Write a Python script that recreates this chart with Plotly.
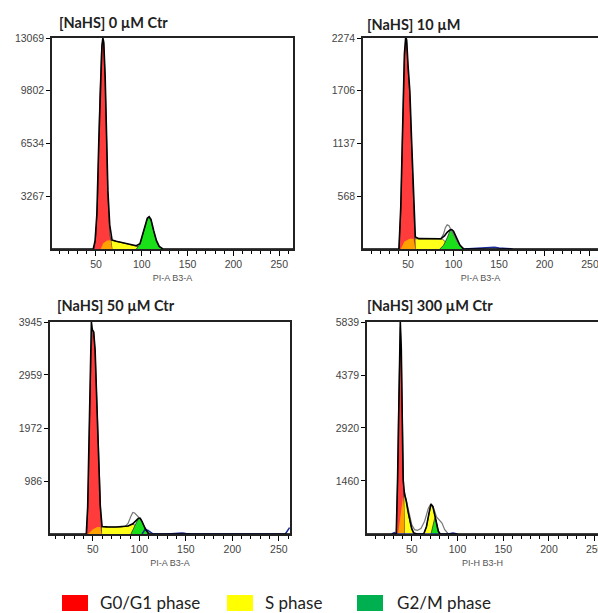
import plotly.graph_objects as go

# ---------------- DATA ----------------
titles = ["[NaHS] 0 µM Ctr", "[NaHS] 10 µM", "[NaHS] 50 µM Ctr", "[NaHS] 300 µM Ctr"]
xlabels = ["PI-A B3-A", "PI-A B3-A", "PI-A B3-A", "PI-H B3-H"]
y_ticks = [[3267, 6534, 9802, 13069], [568, 1137, 1706, 2274], [986, 1972, 2959, 3945], [1460, 2920, 4379, 5839]]
x_ticks = [50, 100, 150, 200, 250]
x_ranges = [[2, 265], [0.5, 258.8], [4, 262], [1, 253.6]]

# Panel 1: 0 µM
p1_red_x = [48, 50, 52, 54, 56, 57.5, 58.5, 60, 61.5, 63, 65, 67.5]
p1_red_y = [0, 900, 3500, 9200, 12300, 13000, 12700, 10600, 7000, 3300, 1000, 0]
p1_s_x = [55, 58, 62, 66, 72, 80, 88, 95, 100, 104]
p1_s_y = [0, 350, 520, 540, 480, 380, 270, 180, 90, 0]
p1_or_x = [55, 58, 62, 66, 67.5]
p1_or_y = [0, 350, 520, 540, 0]
p1_g2_x = [94, 98, 101, 104, 106, 108, 110, 113, 116, 119, 123]
p1_g2_y = [0, 300, 900, 1550, 1870, 1970, 1800, 1100, 500, 150, 0]
p1_tot_x = [2, 40, 47, 49, 51, 53, 55, 56.5, 57.5, 58.5, 60, 61.5, 63, 65, 67.5, 72, 80, 88, 94, 98, 101, 104, 106, 108, 110, 113, 116, 119, 123, 130, 265]
p1_tot_y = [0, 0, 0, 500, 2200, 6500, 11000, 12600, 13069, 12800, 10700, 7200, 3600, 1500, 560, 480, 380, 270, 200, 330, 950, 1600, 1900, 2000, 1830, 1130, 520, 160, 0, 0, 0]
p1_out_x = []
p1_out_y = []
p1_blue_x = []
p1_blue_y = []

# Panel 2: 10 µM
p2_red_x = [40, 42, 44, 46, 47.5, 48.5, 50, 52, 54, 56, 58]
p2_red_y = [0, 400, 1300, 2050, 2274, 2230, 1950, 1650, 1100, 500, 0]
p2_s_x = [42, 46, 52, 60, 70, 80, 88, 93, 97]
p2_s_y = [0, 80, 110, 112, 110, 108, 105, 60, 0]
p2_or_x = [42, 46, 52, 56, 58]
p2_or_y = [0, 80, 110, 110, 0]
p2_g2_x = [85, 89, 93, 96, 98, 100, 103, 107, 111]
p2_g2_y = [0, 40, 120, 195, 208, 190, 120, 40, 0]
p2_tot_x = [0.5, 38, 40, 42, 44, 46, 47.5, 48.5, 50, 52, 54, 56, 58, 62, 70, 80, 86, 90, 93, 96, 98, 100, 103, 107, 111, 258.8]
p2_tot_y = [0, 0, 0, 450, 1350, 2100, 2290, 2250, 1980, 1700, 1150, 580, 130, 112, 110, 108, 110, 140, 180, 205, 210, 192, 122, 42, 0, 0]
p2_out_x = [86, 89, 91, 93, 95, 97, 100, 104, 108, 112]
p2_out_y = [110, 160, 230, 260, 250, 215, 160, 80, 30, 0]
p2_blue_x = [112, 120, 128, 135, 140, 145, 150, 158, 165]
p2_blue_y = [0, 6, 10, 15, 22, 18, 12, 5, 0]

# Panel 3: 50 µM
p3_red_x = [43.5, 45, 46.5, 48, 49.5, 51, 52.5, 54, 56, 58, 59.5]
p3_red_y = [0, 700, 2100, 3300, 3800, 3750, 3400, 2700, 1500, 500, 0]
p3_s_x = [45, 50, 55, 60, 70, 80, 88, 93, 97, 100]
p3_s_y = [0, 90, 130, 135, 130, 130, 150, 185, 150, 0]
p3_or_x = [45, 50, 55, 58, 59.5]
p3_or_y = [0, 90, 130, 130, 0]
p3_g2_x = [91, 94, 97, 99, 101, 103, 106, 110]
p3_g2_y = [0, 120, 240, 290, 290, 230, 110, 0]
p3_tot_x = [4, 40, 43, 44.5, 46, 47.5, 48.5, 49.5, 51, 52.5, 54, 56, 58, 60, 65, 75, 85, 88, 93, 97, 99, 101, 103, 106, 110, 262]
p3_tot_y = [0, 0, 0, 500, 1900, 3400, 3945, 3800, 3760, 3420, 2720, 1520, 520, 140, 132, 130, 140, 150, 190, 250, 292, 292, 232, 112, 0, 0]
p3_out_x = [85, 88, 91, 93, 95, 98, 101, 104, 108, 112]
p3_out_y = [140, 200, 330, 400, 390, 330, 280, 180, 60, 0]
p3_blue_x = [103, 106, 109, 112, 115, 130, 138, 142, 146, 150, 156, 257, 259.5, 261.5]
p3_blue_y = [0, 80, 70, 30, 0, 0, 15, 25, 20, 10, 0, 0, 60, 120]

# Panel 4: 300 µM
p4_red_x = [33, 34.5, 35.5, 36.5, 37.5, 38.5, 39.5, 40.5, 42]
p4_red_y = [0, 1500, 3500, 5200, 5700, 5000, 3200, 1300, 0]
p4_s_x = [35, 37, 39, 41, 42.5, 44, 46, 48, 50, 52, 56, 60, 63, 66, 69, 71, 73, 75, 77, 79, 81]
p4_s_y = [0, 400, 900, 1060, 1070, 900, 600, 330, 140, 30, 0, 0, 0, 200, 600, 820, 760, 500, 250, 80, 0]
p4_or_x = [35, 37, 39, 40.5, 41.5, 42]
p4_or_y = [0, 400, 900, 1050, 700, 0]
p4_g2_x = [71, 72.5, 74, 75, 76.5, 78, 80]
p4_g2_y = [0, 200, 380, 430, 380, 150, 0]
p4_tot_x = [1, 31, 33, 34.5, 35.5, 36.5, 37.4, 38.5, 39.5, 40.5, 42, 44, 46, 48, 50, 52, 56, 63, 66, 69, 71, 73, 75, 77, 79, 81, 253.6]
p4_tot_y = [0, 0, 0, 1600, 3600, 5300, 5839, 5100, 3300, 1500, 1100, 900, 600, 330, 140, 30, 0, 0, 200, 600, 820, 760, 500, 250, 80, 0, 0]
p4_out_x = [42, 44, 46, 50, 53, 56, 60, 64, 68, 71, 74, 77, 80, 83, 86, 90]
p4_out_y = [1150, 950, 700, 250, 120, 100, 150, 350, 700, 840, 700, 470, 390, 300, 120, 0]
p4_blue_x = [28, 31, 33, 90, 95, 100]
p4_blue_y = [0, 40, 0, 0, 30, 0]

panels = [
    (p1_red_x, p1_red_y, p1_s_x, p1_s_y, p1_or_x, p1_or_y, p1_g2_x, p1_g2_y, p1_tot_x, p1_tot_y, p1_out_x, p1_out_y, p1_blue_x, p1_blue_y),
    (p2_red_x, p2_red_y, p2_s_x, p2_s_y, p2_or_x, p2_or_y, p2_g2_x, p2_g2_y, p2_tot_x, p2_tot_y, p2_out_x, p2_out_y, p2_blue_x, p2_blue_y),
    (p3_red_x, p3_red_y, p3_s_x, p3_s_y, p3_or_x, p3_or_y, p3_g2_x, p3_g2_y, p3_tot_x, p3_tot_y, p3_out_x, p3_out_y, p3_blue_x, p3_blue_y),
    (p4_red_x, p4_red_y, p4_s_x, p4_s_y, p4_or_x, p4_or_y, p4_g2_x, p4_g2_y, p4_tot_x, p4_tot_y, p4_out_x, p4_out_y, p4_blue_x, p4_blue_y),
]

legend_labels = ["G0/G1 phase", "S phase", "G2/M phase"]
legend_colors = ["#ff0000", "#ffff00", "#00b050"]

# ---------------- STYLE / LAYOUT ----------------
W, H = 598, 613
x_domains = [[52 / W, 293 / W], [363 / W, 1.0], [50 / W, 290 / W], [367 / W, 1.0]]
y_domains = [[1 - 249 / H, 1 - 38 / H], [1 - 249 / H, 1 - 38 / H], [1 - 534 / H, 1 - 322 / H], [1 - 534 / H, 1 - 322 / H]]
title_pos = [(57, 23), (365, 25), (55, 305), (365, 305)]

RED = "#ff3b3b"
YEL = "#ffff1a"
ORA = "#ffa200"
GRN = "#19e019"
EDGE = "rgba(40,40,40,0.9)"

fig = go.Figure()

for i, p in enumerate(panels):
    rx, ry, sx, sy, ox, oy, gx, gy, tx, ty, outx, outy, bx, by = p
    xa = "x" if i == 0 else f"x{i+1}"
    ya = "y" if i == 0 else f"y{i+1}"
    common = dict(xaxis=xa, yaxis=ya, showlegend=False, hoverinfo="skip")
    fig.add_trace(go.Scatter(x=sx, y=sy, mode="lines", fill="tozeroy", fillcolor=YEL,
                             line=dict(color=EDGE, width=0.8), **common))
    fig.add_trace(go.Scatter(x=rx, y=ry, mode="lines", fill="tozeroy", fillcolor=RED,
                             line=dict(color=EDGE, width=0.8), **common))
    fig.add_trace(go.Scatter(x=ox, y=oy, mode="lines", fill="tozeroy", fillcolor=ORA,
                             line=dict(color="rgba(0,0,0,0)", width=0), **common))
    fig.add_trace(go.Scatter(x=gx, y=gy, mode="lines", fill="tozeroy", fillcolor=GRN,
                             line=dict(color=EDGE, width=0.8), **common))
    if outx:
        fig.add_trace(go.Scatter(x=outx, y=outy, mode="lines",
                                 line=dict(color="#777777", width=1.2), **common))
    if bx:
        fig.add_trace(go.Scatter(x=bx, y=by, mode="lines",
                                 line=dict(color="#1a2a9a", width=1.5), **common))
    fig.add_trace(go.Scatter(x=tx, y=ty, mode="lines",
                             line=dict(color="black", width=1.6), **common))

tickfont = dict(family="Arial", size=10.5, color="#444444")
for i in range(4):
    xkey = "xaxis" if i == 0 else f"xaxis{i+1}"
    ykey = "yaxis" if i == 0 else f"yaxis{i+1}"
    ya = "y" if i == 0 else f"y{i+1}"
    xa = "x" if i == 0 else f"x{i+1}"
    right_mirror = i in (0, 2)
    fig.layout[xkey] = dict(
        domain=x_domains[i], anchor=ya, range=x_ranges[i], automargin=False,
        tickmode="array", tickvals=x_ticks, ticktext=[str(v) for v in x_ticks],
        ticks="outside", ticklen=5, tickwidth=1, tickcolor="black",
        ticklabeloverflow="allow",
        minor=dict(dtick=10, tick0=0, ticks="outside", ticklen=3, tickcolor="black", tickwidth=1),
        showline=True, linecolor="#222222", linewidth=1.5, mirror=True,
        showgrid=False, zeroline=False, tickfont=tickfont,
        title=dict(text=xlabels[i], font=dict(family="Arial", size=9, color="#555555"), standoff=5),
    )
    fig.layout[ykey] = dict(
        domain=y_domains[i], anchor=xa, range=[0, y_ticks[i][-1]], automargin=False,
        tickmode="array", tickvals=y_ticks[i], ticktext=[str(v) for v in y_ticks[i]],
        ticks="outside", ticklen=4, tickwidth=1, tickcolor="black",
        showline=True, linecolor="#222222", linewidth=1.5, mirror=right_mirror,
        showgrid=False, zeroline=False, tickfont=tickfont,
    )

annotations = []
for i, t in enumerate(titles):
    px, py = title_pos[i]
    annotations.append(dict(text=f"<b>{t}</b>", xref="paper", yref="paper",
                            x=px / W, y=1 - py / H, xanchor="left", yanchor="middle",
                            showarrow=False, font=dict(family="Lato", size=14.5, color="#222222")))

shapes = []
leg_box_x = [62, 227, 357]
leg_text_x = [98, 263, 395]
for j, lab in enumerate(legend_labels):
    shapes.append(dict(type="rect", xref="paper", yref="paper",
                       x0=leg_box_x[j] / W, x1=(leg_box_x[j] + 26) / W,
                       y0=1 - 611 / H, y1=1 - 595 / H,
                       fillcolor=legend_colors[j], line=dict(width=0)))
    annotations.append(dict(text=lab, xref="paper", yref="paper",
                            x=leg_text_x[j] / W, y=1 - 602 / H, xanchor="left", yanchor="middle",
                            showarrow=False, font=dict(family="Lato", size=17, color="#222222")))

fig.update_layout(
    width=W, height=H, margin=dict(l=0, r=0, t=0, b=0, autoexpand=False),
    paper_bgcolor="white", plot_bgcolor="white",
    annotations=annotations, shapes=shapes, showlegend=False,
)

fig.write_html("out.html", config={"displayModeBar": False},
               post_script="document.body.style.margin='0';document.body.style.overflow='hidden';")
